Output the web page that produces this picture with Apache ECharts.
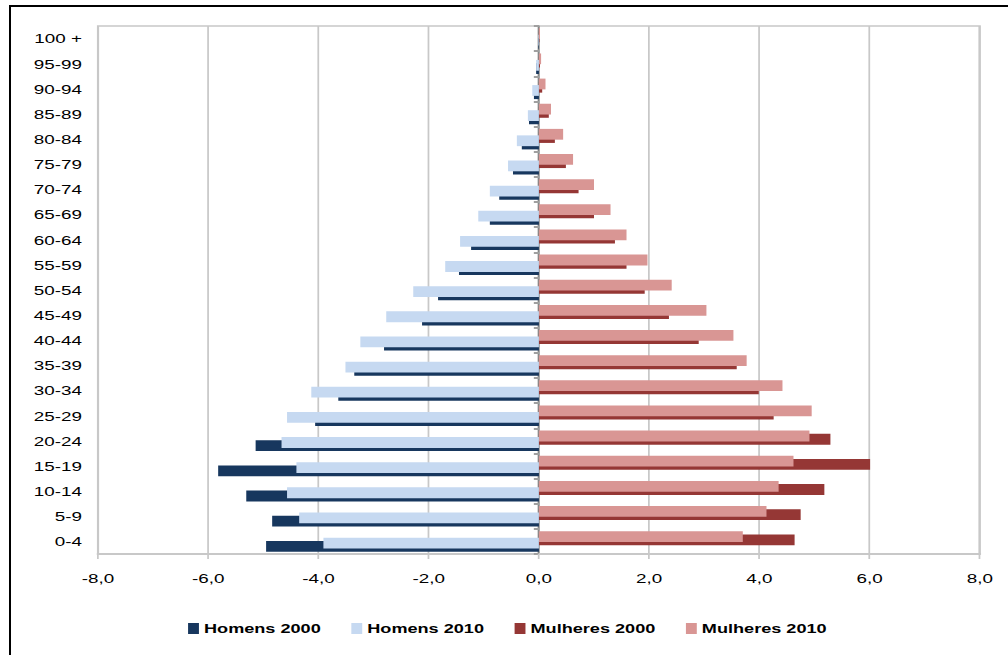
<!DOCTYPE html>
<html>
<head>
<meta charset="utf-8">
<script src="https://cdn.jsdelivr.net/npm/echarts@6/dist/echarts.min.js"></script>
<style>
html,body{margin:0;padding:0;background:#fff;overflow:hidden;width:1008px;height:655px;}
#frame{position:absolute;left:9px;top:5px;width:1100px;height:700px;border-top:2px solid #000;border-left:2px solid #000;}
#chart{position:absolute;left:0;top:0;width:695px;height:655px;transform:scaleX(1.45);transform-origin:0 0;}
</style>
</head>
<body>
<div id="frame"></div>
<div id="chart"></div>
<script>
const categories = ['0-4','5-9','10-14','15-19','20-24','25-29','30-34','35-39','40-44','45-49','50-54','55-59','60-64','65-69','70-74','75-79','80-84','85-89','90-94','95-99','100 +'];
const homens2000 = [4.95,4.84,5.31,5.82,5.14,4.06,3.64,3.35,2.81,2.12,1.83,1.45,1.23,0.89,0.72,0.47,0.31,0.18,0.09,0.05,0.01];
const homens2010 = [3.91,4.35,4.57,4.40,4.67,4.57,4.13,3.51,3.24,2.77,2.28,1.70,1.43,1.10,0.89,0.56,0.40,0.20,0.12,0.05,0.01];
const mulheres2000 = [4.64,4.75,5.18,6.01,5.29,4.26,3.99,3.59,2.90,2.36,1.92,1.59,1.38,1.00,0.72,0.49,0.29,0.18,0.06,0.02,0.01];
const mulheres2010 = [3.70,4.13,4.35,4.62,4.91,4.95,4.42,3.77,3.53,3.04,2.41,1.97,1.59,1.30,1.00,0.62,0.44,0.22,0.12,0.04,0.02];
const seriesNames = ['Homens 2000','Homens 2010','Mulheres 2000','Mulheres 2010'];
const xTicks = {min:-8, max:8, interval:2};

const chart = echarts.init(document.getElementById('chart'), null, {renderer:'svg'});
const font = 'Liberation Sans, Arial, sans-serif';
const colors = ['#17375E','#C6D9F1','#953735','#D99694'];
const dataSets = [homens2000.map(v=>-v), homens2010.map(v=>-v), mulheres2000, mulheres2010];

// ECharts stacks horizontal groups top-down, so add series in reverse to keep Homens 2000 lowest
const order = [3,2,1,0];
chart.setOption({
  animation:false,
  textStyle:{fontFamily:font},
  grid:{left:67.6, right:19.3, top:26, bottom:101, show:true, borderColor:'#C8C8C8', borderWidth:1.5},
  legend:{
    data:seriesNames, left:129.7, top:622, padding:0, itemWidth:7.5, itemHeight:11, itemGap:21,
    icon:'rect',
    textStyle:{fontFamily:font, fontSize:12.5, fontWeight:'bold', color:'#000', padding:[0,0,0,-1.5]}
  },
  xAxis:{
    type:'value', min:xTicks.min, max:xTicks.max, interval:xTicks.interval,
    axisLine:{show:true, onZero:false, lineStyle:{color:'#C8C8C8', width:2}},
    axisTick:{show:true, length:5, lineStyle:{color:'#C8C8C8', width:1.2}},
    axisLabel:{color:'#000', fontSize:13, fontFamily:font, margin:18,
      formatter:v=>v.toFixed(1).replace('.',',')},
    splitLine:{show:true, lineStyle:{color:'#C8C8C8', width:1.2}}
  },
  yAxis:[
    {type:'category', data:categories, position:'left',
      axisLine:{show:false, onZero:false}, axisTick:{show:false},
      axisLabel:{color:'#000', fontSize:13, fontFamily:font, margin:11},
      splitLine:{show:false}},
    {type:'category', data:categories, position:'left',
      axisLine:{show:true, onZero:true, lineStyle:{color:'#868686', width:1.3}},
      axisTick:{show:true, length:3.5, lineStyle:{color:'#A0A0A0', width:2}},
      axisLabel:{show:false}, splitLine:{show:false}}
  ],
  series: order.map(i=>({
    name:seriesNames[i], type:'bar', yAxisIndex:0, data:dataSets[i],
    barWidth:10.8, barGap:'-70%',
    z: (i%2===1) ? 4 : 3,
    itemStyle:{color:colors[i]}
  }))
});
</script>
</body>
</html>
